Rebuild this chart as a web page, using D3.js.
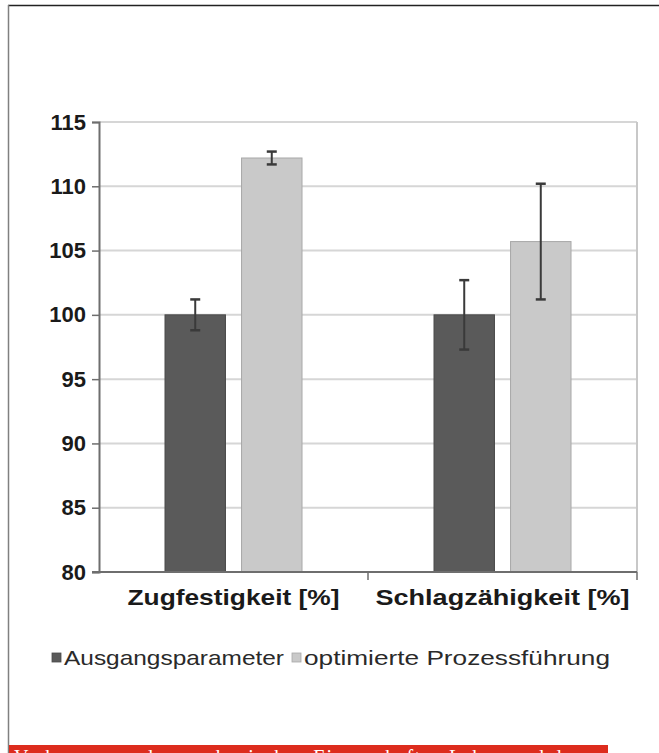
<!DOCTYPE html>
<html>
<head>
<meta charset="utf-8">
<script src="https://cdn.jsdelivr.net/npm/d3@7"></script>
<style>
  html, body { margin: 0; padding: 0; background: #fff; }
  svg { display: block; }
</style>
</head>
<body>
<svg id="chart" width="659" height="753"></svg>
<script>
// ---- data ----
const categories = ["Zugfestigkeit [%]", "Schlagzähigkeit [%]"];
const seriesNames = ["Ausgangsparameter", "optimierte Prozessführung"];
const seriesColors = ["#5a5a5a", "#c9c9c9"];
const ausgangsValues = [100, 100];
const ausgangsErrors = [1.2, 2.7];
const optimiertValues = [112.2, 105.7];
const optimiertErrors = [0.5, 4.5];
const yTicks = [80, 85, 90, 95, 100, 105, 110, 115];
const captionText = "Verbesserung der mechanischen Eigenschaften Leben und dann";

(function () {
const series = [
  { name: seriesNames[0], values: ausgangsValues, errors: ausgangsErrors, color: seriesColors[0], stroke: "#4a4a4a" },
  { name: seriesNames[1], values: optimiertValues, errors: optimiertErrors, color: seriesColors[1], stroke: "#a8a8a8" }
];

const svg = d3.select("#chart");

// outer frame
svg.append("line").attr("x1", 8).attr("x2", 659).attr("y1", 5.5).attr("y2", 5.5)
  .attr("stroke", "#222").attr("stroke-width", 1.5);
svg.append("line").attr("x1", 8.5).attr("x2", 8.5).attr("y1", 5).attr("y2", 753)
  .attr("stroke", "#808080").attr("stroke-width", 1.5);

// plot area
const pLeft = 99, pRight = 637, pTop = 122, pBottom = 572;
const x0 = d3.scaleBand().domain(categories).range([pLeft, pRight]).paddingInner(0).paddingOuter(0);
const x1 = d3.scaleBand().domain(seriesNames).range([66, x0.bandwidth() - 66]).paddingInner(0.21);
const y = d3.scaleLinear().domain([80, 115]).range([pBottom, pTop]);

// gridlines
svg.append("g").selectAll("line").data(yTicks.filter(t => t > 80)).join("line")
  .attr("x1", pLeft).attr("x2", pRight)
  .attr("y1", d => y(d)).attr("y2", d => y(d))
  .attr("stroke", "#d6d6d6").attr("stroke-width", 2);
// right border
svg.append("line").attr("x1", pRight).attr("x2", pRight).attr("y1", pTop).attr("y2", pBottom)
  .attr("stroke", "#c8c8c8").attr("stroke-width", 2);

// bars
const groups = svg.append("g").selectAll("g").data(series).join("g");
groups.selectAll("rect").data(s => s.values.map((v, i) => ({ v, i, s }))).join("rect")
  .attr("x", d => x0(categories[d.i]) + x1(d.s.name))
  .attr("width", x1.bandwidth())
  .attr("y", d => y(d.v))
  .attr("height", d => y(80) - y(d.v))
  .attr("fill", d => d.s.color)
  .attr("stroke", d => d.s.stroke).attr("stroke-width", 1);

// error bars
const errG = svg.append("g");
series.forEach(s => {
  s.values.forEach((v, i) => {
    const cx = x0(categories[i]) + x1(s.name) + x1.bandwidth() / 2;
    const hi = y(v + s.errors[i]), lo = y(v - s.errors[i]);
    errG.append("line").attr("x1", cx).attr("x2", cx).attr("y1", hi).attr("y2", lo)
      .attr("stroke", "#3a3a3a").attr("stroke-width", 2);
    [hi, lo].forEach(yy => errG.append("line").attr("x1", cx - 5).attr("x2", cx + 5)
      .attr("y1", yy).attr("y2", yy).attr("stroke", "#3a3a3a").attr("stroke-width", 2.5));
  });
});

// y axis
const yAxis = svg.append("g").attr("transform", `translate(${pLeft},0)`)
  .call(d3.axisLeft(y).tickValues(yTicks).tickSize(7).tickPadding(6).tickFormat(d3.format("d")));
yAxis.select(".domain").attr("stroke", "#6e6e6e").attr("stroke-width", 2);
yAxis.selectAll(".tick line").attr("stroke", "#6e6e6e").attr("stroke-width", 1.5);
yAxis.selectAll(".tick text").attr("fill", "#1a1a1a")
  .style("font-family", "'Liberation Sans', Arial, sans-serif")
  .style("font-weight", "bold").style("font-size", "22px");

// x axis
const xAxis = svg.append("g").attr("transform", `translate(0,${pBottom})`)
  .call(d3.axisBottom(x0).tickSize(0).tickPadding(25));
xAxis.select(".domain").remove();
svg.append("line").attr("x1", pLeft - 7).attr("x2", pRight).attr("y1", pBottom).attr("y2", pBottom)
  .attr("stroke", "#6e6e6e").attr("stroke-width", 2);
const boundaries = [pLeft, x0(categories[1]), pRight];
svg.append("g").selectAll("line").data(boundaries.slice(1)).join("line")
  .attr("x1", d => d).attr("x2", d => d).attr("y1", pBottom).attr("y2", pBottom + 8)
  .attr("stroke", "#6e6e6e").attr("stroke-width", 1.5);
xAxis.selectAll(".tick text").attr("fill", "#1a1a1a")
  .style("font-family", "'Liberation Sans', Arial, sans-serif")
  .style("font-weight", "bold").style("font-size", "22px")
  .attr("dy", "0.35em")
  .attr("textLength", (d, i) => [212, 254][i]).attr("lengthAdjust", "spacingAndGlyphs");

// legend
const legendX = [52, 292];
const legendTextW = [220, 306];
const leg = svg.append("g").selectAll("g").data(series).join("g")
  .attr("transform", (d, i) => `translate(${legendX[i]},658)`);
leg.append("rect").attr("x", 0).attr("y", -5).attr("width", 9).attr("height", 9)
  .attr("fill", d => d.color).attr("stroke", d => d.stroke).attr("stroke-width", 0.8);
leg.append("text").attr("x", 12).attr("y", 0).attr("dy", "0.35em")
  .attr("fill", "#2a2a2a")
  .style("font-family", "'Liberation Sans', Arial, sans-serif").style("font-size", "21px")
  .attr("textLength", (d, i) => legendTextW[i]).attr("lengthAdjust", "spacingAndGlyphs")
  .text(d => d.name);

// red caption strip
svg.append("rect").attr("x", 9).attr("y", 745).attr("width", 599).attr("height", 8).attr("fill", "#dd2c1d");
svg.append("text").attr("x", 14).attr("y", 764).attr("fill", "#fff")
  .style("font-family", "'Liberation Serif', 'DejaVu Serif', serif").style("font-size", "20px")
  .attr("textLength", 580).attr("lengthAdjust", "spacing")
  .text(captionText);
})();
</script>
</body>
</html>
